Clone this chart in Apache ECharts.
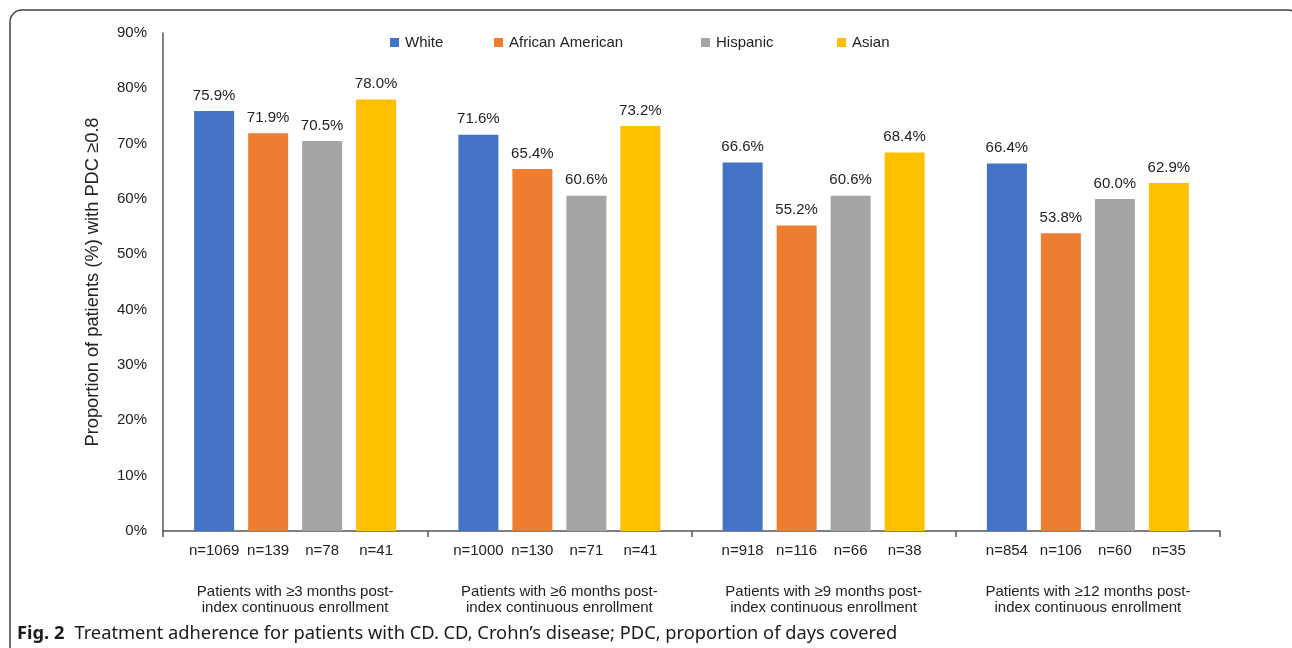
<!DOCTYPE html>
<html>
<head>
<meta charset="utf-8">
<script src="https://cdn.jsdelivr.net/npm/echarts@6/dist/echarts.min.js"></script>
<style>
  html, body { margin: 0; padding: 0; background: #fff; }
  #chart { width: 1292px; height: 648px; }
</style>
</head>
<body>
<div id="chart"></div>
<script>
// Enrollment windows (x-axis groups)
const groups = [
  'Patients with \u22653 months post-\nindex continuous enrollment',
  'Patients with \u22656 months post-\nindex continuous enrollment',
  'Patients with \u22659 months post-\nindex continuous enrollment',
  'Patients with \u226512 months post-\nindex continuous enrollment'
];
const seriesNames = ['White', 'African American', 'Hispanic', 'Asian'];
const colors = ['#4472C4', '#ED7D31', '#A5A5A5', '#FFC000'];

// Share of patients with PDC >= 0.8, in percent
const white    = [75.9, 71.6, 66.6, 66.4];
const african  = [71.9, 65.4, 55.2, 53.8];
const hispanic = [70.5, 60.6, 60.6, 60.0];
const asian    = [78.0, 73.2, 68.4, 62.9];

// Patient counts per bar
const nWhite    = [1069, 1000, 918, 854];
const nAfrican  = [139, 130, 116, 106];
const nHispanic = [78, 71, 66, 60];
const nAsian    = [41, 41, 38, 35];

const yTicks = { min: 0, max: 90, interval: 10 };

const values = [white, african, hispanic, asian];
const counts = [nWhite, nAfrican, nHispanic, nAsian];
const legendLeft = [390, 494, 701, 837];

const FONT = '"Liberation Sans", Arial, sans-serif';
const CAPTION_FONT = '"Noto Sans", "Open Sans", sans-serif';
const BAR_W = 40;

const series = [];
// zero-height bars at the base of each stack carry the n= labels under the axis
seriesNames.forEach((name, i) => {
  series.push({
    name: 'n-' + name,
    type: 'bar',
    stack: 's' + i,
    barWidth: BAR_W,
    barGap: '35%',
    data: counts[i].map(() => 0),
    itemStyle: { color: 'rgba(0,0,0,0)' },
    label: {
      show: true,
      position: 'bottom',
      distance: 12,
      fontFamily: FONT,
      fontSize: 15,
      color: '#222',
      formatter: p => 'n=' + counts[i][p.dataIndex]
    },
    silent: true
  });
});
seriesNames.forEach((name, i) => {
  series.push({
    name: name,
    type: 'bar',
    stack: 's' + i,
    barWidth: BAR_W,
    barGap: '35%',
    data: values[i],
    itemStyle: { color: colors[i] },
    label: {
      show: true,
      position: 'top',
      distance: 8,
      fontFamily: FONT,
      fontSize: 15,
      color: '#222',
      formatter: p => p.value.toFixed(1) + '%'
    }
  });
});

const chart = echarts.init(document.getElementById('chart'), null, { renderer: 'canvas' });
chart.setOption({
  backgroundColor: '#fff',
  animation: false,
  color: colors,
  title: {
    left: 12,
    top: 620,
    text: '{b|Fig. 2}  {n|Treatment adherence for patients with CD. CD, Crohn\u2019s disease; PDC, proportion of days covered}',
    textStyle: {
      fontWeight: 'normal',
      rich: {
        b: { fontFamily: CAPTION_FONT, fontWeight: 'bold', fontSize: 18.3, color: '#1a1a1a' },
        n: { fontFamily: CAPTION_FONT, fontWeight: 'normal', fontSize: 18.3, color: '#1a1a1a' }
      }
    }
  },
  legend: seriesNames.map((name, i) => ({
    data: [name],
    left: legendLeft[i],
    top: 35,
    icon: 'rect',
    itemWidth: 9,
    itemHeight: 9,
    padding: 0,
    textStyle: { fontFamily: FONT, fontSize: 15, color: '#222', padding: [0, 0, 0, 1] }
  })),
  grid: { left: 163, right: 72, top: 33, bottom: 117, containLabel: false },
  xAxis: {
    type: 'category',
    data: groups,
    axisLine: { lineStyle: { color: '#555', width: 1.5 } },
    axisTick: { show: true, interval: 0, length: 6, lineStyle: { color: '#555', width: 1.5 } },
    axisLabel: {
      interval: 0,
      margin: 53,
      fontFamily: FONT,
      fontSize: 15,
      lineHeight: 16,
      color: '#222',
      align: 'center'
    }
  },
  yAxis: {
    type: 'value',
    min: yTicks.min,
    max: yTicks.max,
    interval: yTicks.interval,
    name: 'Proportion of patients (%) with PDC \u22650.8',
    nameLocation: 'middle',
    nameGap: 61,
    nameTextStyle: { fontFamily: FONT, fontSize: 18.3, color: '#222' },
    axisLine: { show: true, lineStyle: { color: '#555', width: 1.5 } },
    axisTick: { show: false },
    splitLine: { show: false },
    axisLabel: {
      margin: 16,
      fontFamily: FONT,
      fontSize: 15,
      color: '#222',
      formatter: '{value}%'
    }
  },
  graphic: [{
    type: 'rect',
    silent: true,
    z: -1,
    shape: { x: 10, y: 10, width: 1290, height: 700, r: 12 },
    style: { fill: 'none', stroke: '#444', lineWidth: 1.5 }
  }],
  series: series
});
</script>
</body>
</html>
